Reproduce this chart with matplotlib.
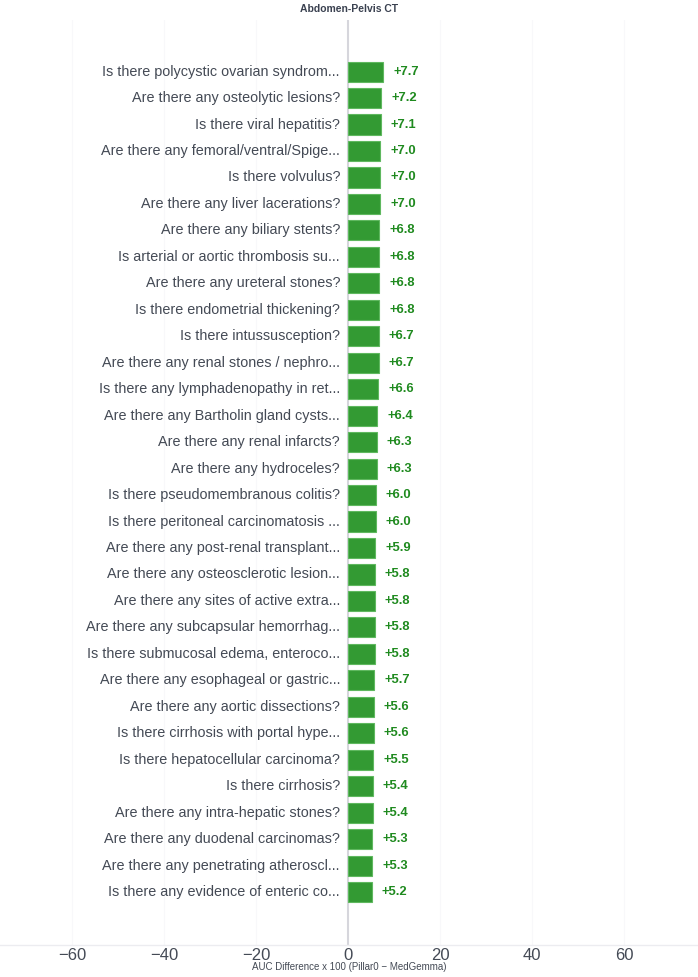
import matplotlib
matplotlib.use("Agg")
import matplotlib.pyplot as plt
import matplotlib.transforms as mtransforms

plt.rcParams["font.family"] = ["Liberation Sans", "DejaVu Sans"]

# ── Data ───────────────────────────────────────────────────────────────────────
questions = [
    "Is there polycystic ovarian syndrom...",
    "Are there any osteolytic lesions?",
    "Is there viral hepatitis?",
    "Are there any femoral/ventral/Spige...",
    "Is there volvulus?",
    "Are there any liver lacerations?",
    "Are there any biliary stents?",
    "Is arterial or aortic thrombosis su...",
    "Are there any ureteral stones?",
    "Is there endometrial thickening?",
    "Is there intussusception?",
    "Are there any renal stones / nephro...",
    "Is there any lymphadenopathy in ret...",
    "Are there any Bartholin gland cysts...",
    "Are there any renal infarcts?",
    "Are there any hydroceles?",
    "Is there pseudomembranous colitis?",
    "Is there peritoneal carcinomatosis ...",
    "Are there any post-renal transplant...",
    "Are there any osteosclerotic lesion...",
    "Are there any sites of active extra...",
    "Are there any subcapsular hemorrhag...",
    "Is there submucosal edema, enteroco...",
    "Are there any esophageal or gastric...",
    "Are there any aortic dissections?",
    "Is there cirrhosis with portal hype...",
    "Is there hepatocellular carcinoma?",
    "Is there cirrhosis?",
    "Are there any intra-hepatic stones?",
    "Are there any duodenal carcinomas?",
    "Are there any penetrating atheroscl...",
    "Is there any evidence of enteric co...",
]
auc_diff = [7.7, 7.2, 7.1, 7.0, 7.0, 7.0, 6.8, 6.8, 6.8, 6.8, 6.7, 6.7,
            6.6, 6.4, 6.3, 6.3, 6.0, 6.0, 5.9, 5.8, 5.8, 5.8, 5.8, 5.7,
            5.6, 5.6, 5.5, 5.4, 5.4, 5.3, 5.3, 5.2]
x_ticks = [-60, -40, -20, 0, 20, 40, 60]

# ── Figure ─────────────────────────────────────────────────────────────────────
fig = plt.figure(figsize=(6.98, 9.77), dpi=100)
ax = fig.add_axes([0.0, 1 - 945 / 977, 1.0, (945 - 20) / 977])

n = len(questions)
ypos = list(range(n))
ax.barh(ypos, auc_diff, height=0.76, color="#339a33",
        edgecolor="#5fb85f", linewidth=0.8, zorder=3)

ax.set_xlim(-60 - 72 / 4.6, 60 + 74 / 4.6)
ax.set_ylim(n - 1 + 2.0, -1.95)

ax.axvline(0, color="#d6d6dc", lw=1.5, zorder=2)
for t in x_ticks:
    if t != 0:
        ax.axvline(t, color="#f8f8fa", lw=0.8, zorder=1)

lab_off = mtransforms.offset_copy(ax.transData, fig=fig, x=-8, y=0, units="dots")
val_off = mtransforms.offset_copy(ax.transData, fig=fig, x=10, y=0, units="dots")
for y, q, v in zip(ypos, questions, auc_diff):
    ax.text(0, y, q, transform=lab_off, ha="right", va="center",
            fontsize=10.4, color="#444a55")
    ax.text(v, y, f"+{v:.1f}", transform=val_off, ha="left", va="center",
            fontsize=9.4, color="#1f8a1f", fontweight="bold")

ax.set_yticks([])
ax.set_xticks(x_ticks)
ax.set_xticklabels([f"\u2212{abs(t)}" if t < 0 else str(t) for t in x_ticks],
                   fontsize=12, color="#444a55")
ax.tick_params(axis="x", length=0, pad=2)
for side in ["top", "right", "left"]:
    ax.spines[side].set_visible(False)
ax.spines["bottom"].set_color("#ececf0")
ax.spines["bottom"].set_linewidth(1.0)

fig.text(0.5, 1 - 967 / 977, "AUC Difference x 100 (Pillar0 \u2212 MedGemma)",
         ha="center", va="center", fontsize=7, color="#444a55")
fig.text(0.5, 1 - 9 / 977, "Abdomen-Pelvis CT", ha="center", va="center",
         fontsize=7.5, fontweight="bold", color="#3a4150")

fig.savefig("out.png", dpi=100)
